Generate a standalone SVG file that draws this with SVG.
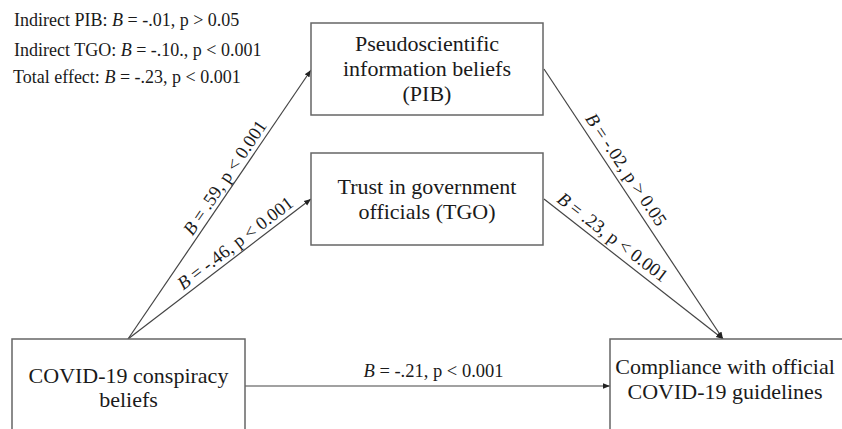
<svg xmlns="http://www.w3.org/2000/svg" width="842" height="429" viewBox="0 0 842 429">
<defs>
<marker id="arr" viewBox="0 0 10 10" refX="10" refY="5" markerWidth="7" markerHeight="7" markerUnits="userSpaceOnUse" orient="auto">
<path d="M0,1 L10,5 L0,9 Z" fill="#222"/>
</marker>
</defs>
<style>
.box{fill:#fff;stroke:#666;stroke-width:1.5}
.t{font-family:"Liberation Serif","Times New Roman",serif;font-size:22px;fill:#1a1a1a;text-anchor:middle}
.s{font-family:"Liberation Serif","Times New Roman",serif;font-size:18px;fill:#1a1a1a}
.lab{font-family:"Liberation Serif","Times New Roman",serif;font-size:18.5px;fill:#1a1a1a;text-anchor:middle}
.c{stroke:#444;stroke-width:1.2;fill:none;marker-end:url(#arr)}
</style>
<rect width="842" height="429" fill="#fff"/>
<g id="stats">
<text class="s" x="14" y="26">Indirect PIB: <tspan font-style="italic">B</tspan> = -.01, p &gt; 0.05</text>
<text class="s" x="14" y="56">Indirect TGO: <tspan font-style="italic">B</tspan> = -.10., p &lt; 0.001</text>
<text class="s" x="13" y="83">Total effect: <tspan font-style="italic">B</tspan> = -.23, p &lt; 0.001</text>
</g>
<g id="connectors">
<line class="c" x1="128" y1="339" x2="311" y2="70"/>
<line class="c" x1="128" y1="339" x2="311" y2="199"/>
<line class="c" x1="544" y1="69" x2="723" y2="339"/>
<line class="c" x1="544" y1="199" x2="723" y2="339"/>
<line class="c" x1="245" y1="386" x2="610" y2="386"/>
<text class="lab" transform="translate(230,181) rotate(-55.9)"><tspan font-style="italic">B</tspan> = .59, p &lt; 0.001</text>
<text class="lab" transform="translate(239,248) rotate(-37.4)"><tspan font-style="italic">B</tspan> = -.46, p &lt; 0.001</text>
<text class="lab" transform="translate(621,173) rotate(56.3)"><tspan font-style="italic">B</tspan> = -.02, p &gt; 0.05</text>
<text class="lab" transform="translate(609,242) rotate(37.6)"><tspan font-style="italic">B</tspan> = .23, p &lt; 0.001</text>
<text class="lab" x="433.5" y="377"><tspan font-style="italic">B</tspan> = -.21, p &lt; 0.001</text>
</g>
<g id="pib">
<rect class="box" x="311" y="23" width="232" height="92"/>
<text class="t" x="427" y="51">Pseudoscientific</text>
<text class="t" x="427" y="76">information beliefs</text>
<text class="t" x="427" y="101">(PIB)</text>
</g>
<g id="tgo">
<rect class="box" x="311" y="153" width="232" height="92"/>
<text class="t" x="427" y="194">Trust in government</text>
<text class="t" x="427" y="219">officials (TGO)</text>
</g>
<g id="ccb">
<rect class="box" x="12" y="339" width="233" height="100"/>
<text class="t" x="128.5" y="383">COVID-19 conspiracy</text>
<text class="t" x="128.5" y="407">beliefs</text>
</g>
<g id="comp">
<rect class="box" x="610" y="339" width="240" height="100"/>
<text class="t" x="725" y="374">Compliance with official</text>
<text class="t" x="725" y="399">COVID-19 guidelines</text>
</g>
</svg>
